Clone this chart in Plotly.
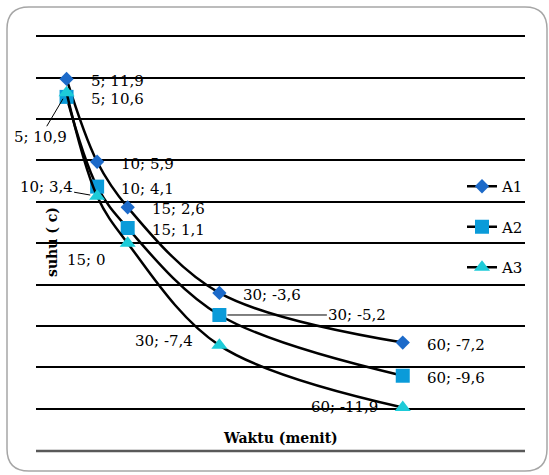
import plotly.graph_objects as go

# ---- data ----
waktu = [5, 10, 15, 30, 60]
a1 = [11.9, 5.9, 2.6, -3.6, -7.2]
a2 = [10.6, 4.1, 1.1, -5.2, -9.6]
a3 = [10.9, 3.4, 0.0, -7.4, -11.9]
series_names = ["A1", "A2", "A3"]
colors = ["#1C6AC9", "#0A9BD9", "#1DCBD8"]
symbols = ["diamond", "square", "triangle-up"]
sizes = [11, 14, 14]

W, H = 549, 475
ML, MR, MT, MB = 36, 24, 32, 62
PW = W - ML - MR
PH = H - MT - MB


def px2paper_x(px):
    return (px - ML) / PW


def px2paper_y(py):
    return (H - MB - py) / PH


FONT = "DejaVu Serif"
FS = 15

fig = go.Figure()
for name, ys, c, s, sz in zip(series_names, [a1, a2, a3], colors, symbols, sizes):
    fig.add_trace(go.Scatter(
        x=waktu, y=ys, name=name, legendgroup=name,
        mode="lines+markers",
        line=dict(color="black", width=2.5, shape="spline", smoothing=1.0),
        marker=dict(symbol=s, size=sz, color=c, line=dict(width=0)),
    ))


def fmt(v):
    s = ("%g" % v).replace(".", ",")
    return s


annotations = []
right_series = [a1, a2]
for ys in right_series:
    for i, (xv, yv) in enumerate(zip(waktu, ys)):
        if ys is a2 and i == 3:
            continue
        annotations.append(dict(
            x=xv, y=yv, xref="x", yref="y", showarrow=False,
            text=f"{xv}; {fmt(yv)}", xanchor="left", yanchor="middle",
            xshift=22, yshift=-2, font=dict(family=FONT, size=FS, color="black")))

# A2 at 30 with leader line
annotations.append(dict(
    x=waktu[3], y=a2[3], xref="x", yref="y", showarrow=True,
    text=f"{waktu[3]}; {fmt(a2[3])}", ax=138, ay=0, arrowhead=0,
    arrowwidth=1, arrowcolor="black", standoff=8,
    font=dict(family=FONT, size=FS, color="black")))

# A3 labels (left side)
annotations.append(dict(
    x=waktu[0], y=a3[0], xref="x", yref="y", showarrow=True,
    text=f"{waktu[0]}; {fmt(a3[0])}", ax=-26, ay=44, arrowhead=0,
    arrowwidth=1, arrowcolor="black", standoff=7,
    font=dict(family=FONT, size=FS, color="black")))
annotations.append(dict(
    x=waktu[1], y=a3[1], xref="x", yref="y", showarrow=True,
    text=f"{waktu[1]}; {fmt(a3[1])}", ax=-51, ay=-9, arrowhead=0,
    arrowwidth=1, arrowcolor="black", standoff=7,
    font=dict(family=FONT, size=FS, color="black")))
left_cfg = {2: (-21, -17), 3: (-24, 4), 4: (-23, 0)}
for i, (dx, dy) in left_cfg.items():
    annotations.append(dict(
        x=waktu[i], y=a3[i], xref="x", yref="y", showarrow=False,
        text=f"{waktu[i]}; {fmt(a3[i])}", xanchor="right", yanchor="middle",
        xshift=dx, yshift=dy, font=dict(family=FONT, size=FS, color="black")))

# axis titles
annotations.append(dict(
    x=0.5, y=px2paper_y(438), xref="paper", yref="paper", showarrow=False,
    text="<b>Waktu (menit)</b>", xanchor="center", yanchor="middle",
    font=dict(family=FONT, size=14, color="black")))
annotations.append(dict(
    x=px2paper_x(52), y=px2paper_y(242), xref="paper", yref="paper", showarrow=False,
    text="<b>suhu ( c)</b>", textangle=-90, xanchor="center", yanchor="middle",
    font=dict(family=FONT, size=14, color="black")))

# frame (rounded rectangle) and bottom gray line
fl, ft, fr, fb, rad = 7, 7, 547, 471, 22
x0, x1 = px2paper_x(fl), px2paper_x(fr)
y0, y1 = px2paper_y(fb), px2paper_y(ft)
rx, ry = rad / PW, rad / PH
path = (f"M {x0+rx},{y1} L {x1-rx},{y1} Q {x1},{y1} {x1},{y1-ry} "
        f"L {x1},{y0+ry} Q {x1},{y0} {x1-rx},{y0} L {x0+rx},{y0} "
        f"Q {x0},{y0} {x0},{y0+ry} L {x0},{y1-ry} Q {x0},{y1} {x0+rx},{y1} Z")
shapes = [
    dict(type="path", path=path, xref="paper", yref="paper",
         line=dict(color="#A6A6A6", width=1.5), fillcolor="rgba(0,0,0,0)", layer="below"),
    dict(type="line", xref="paper", yref="paper", x0=0, x1=1,
         y0=px2paper_y(451), y1=px2paper_y(451),
         line=dict(color="#595959", width=2.5)),
]

fig.update_layout(
    width=W, height=H,
    margin=dict(l=ML, r=MR, t=MT, b=MB),
    paper_bgcolor="white", plot_bgcolor="white",
    font=dict(family=FONT, size=FS, color="black"),
    showlegend=True,
    legend=dict(x=px2paper_x(462), y=px2paper_y(170), xanchor="left", yanchor="top",
                bgcolor="rgba(0,0,0,0)", tracegroupgap=18,
                font=dict(family=FONT, size=FS, color="black")),
    xaxis=dict(range=[0, 80], showgrid=False, zeroline=False, showticklabels=False,
               ticks="", showline=False),
    yaxis=dict(range=[-12.3, 15.3], dtick=3, tick0=0, showgrid=True,
               gridcolor="black", gridwidth=1.5, zeroline=False,
               showticklabels=False, ticks="", showline=False),
    annotations=annotations,
    shapes=shapes,
)

fig.write_html("out.html")
